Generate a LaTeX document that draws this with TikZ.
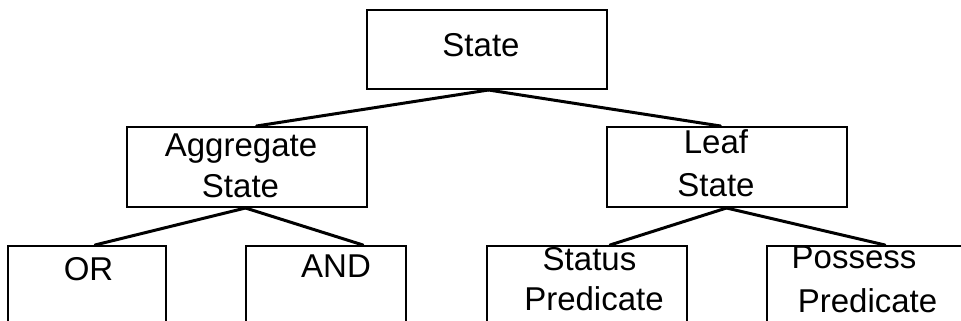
\documentclass[tikz,border=0pt]{standalone}
\usepackage{fontspec}
\setmainfont{Liberation Sans}
\begin{document}
\begin{tikzpicture}[x=1pt,y=-1pt,
  box/.style={draw=black, line width=2pt, rectangle, inner sep=0pt},
  txt/.style={inner sep=0pt, anchor=base, font=\fontsize{33}{40}\selectfont},
  conn/.style={draw=black, line width=3pt, line cap=round}]
\useasboundingbox (0,0) rectangle (961,321);
\clip (0,0) rectangle (961,321);
\fill[white] (0,0) rectangle (961,321);
% boxes
\node[box, minimum width=240pt, minimum height=79pt] (state) at (486.5,49.5) {};
\node[box, minimum width=240pt, minimum height=80pt] (agg) at (246.5,167) {};
\node[box, minimum width=240pt, minimum height=80pt] (leaf) at (726.5,167) {};
\node[box, minimum width=158pt, minimum height=140pt] (or) at (87,316) {};
\node[box, minimum width=160pt, minimum height=140pt] (and) at (326,316) {};
\node[box, minimum width=200pt, minimum height=140pt] (status) at (587,316) {};
\node[box, minimum width=200pt, minimum height=140pt] (possess) at (867,316) {};
% texts
\node[txt] (tstate) at (481,57) {State};
\node[txt] (tagg1) at (241,156) {Aggregate};
\node[txt] (tagg2) at (240.5,197) {State};
\node[txt] (tleaf1) at (716,153) {Leaf};
\node[txt] (tleaf2) at (716,196) {State};
\node[txt] (tor) at (88.5,280) {OR};
\node[txt] (tand) at (336,277) {AND};
\node[txt] (tst1) at (589.5,270) {Status};
\node[txt] (tst2) at (594,310) {Predicate};
\node[txt] (tpo1) at (854,268) {Possess};
\node[txt] (tpo2) at (867.5,312) {Predicate};
% connectors
\draw[conn] ([xshift=2pt]state.south) -- ([xshift=10pt]agg.north);
\draw[conn] ([xshift=2pt]state.south) -- ([xshift=-6pt]leaf.north);
\draw[conn] ([xshift=-1pt]agg.south) -- ([xshift=8pt]or.north);
\draw[conn] ([xshift=-1pt]agg.south) -- ([xshift=37pt]and.north);
\draw[conn] (leaf.south) -- ([xshift=23pt]status.north);
\draw[conn] (leaf.south) -- ([xshift=18pt]possess.north);
\end{tikzpicture}
\end{document}
